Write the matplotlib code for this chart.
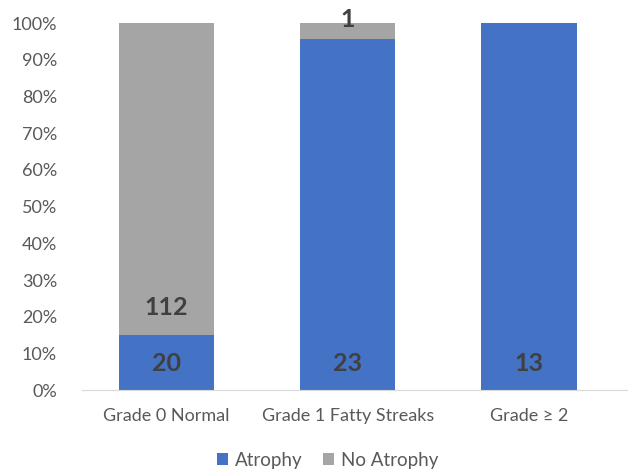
import numpy as np
import matplotlib.pyplot as plt

plt.rcParams['font.family'] = ['Lato', 'DejaVu Sans']

grades = ['Grade 0 Normal', 'Grade 1 Fatty Streaks', 'Grade \u2265 2']
atrophy = np.array([20, 23, 13])
no_atrophy = np.array([112, 1, 0])

totals = atrophy + no_atrophy
atrophy_pct = atrophy / totals
no_atrophy_pct = no_atrophy / totals

fig = plt.figure(figsize=(6.33, 4.74), dpi=100)
ax = fig.add_axes([0.1295, 0.177, 0.861, 0.774])

x = np.arange(len(grades))
width = 0.525
ax.bar(x, atrophy_pct, width, color='#4472C4', label='Atrophy')
ax.bar(x, no_atrophy_pct, width, bottom=atrophy_pct, color='#A5A5A5', label='No Atrophy')

# counts sit just above the base of each segment
for i in range(len(grades)):
    if atrophy[i] > 0:
        ax.text(x[i], 0.073, str(atrophy[i]), ha='center', va='center',
                fontsize=18, fontweight='bold', color='#404040')
    if no_atrophy[i] > 0:
        y = min(atrophy_pct[i] + 0.073, 1.01)
        ax.text(x[i], y, str(no_atrophy[i]), ha='center', va='center',
                fontsize=18, fontweight='bold', color='#404040')

ax.set_xlim(-0.466, 2.54)
ax.set_ylim(0, 1)
ax.set_yticks(np.arange(0, 1.01, 0.1))
ax.set_yticklabels([f'{int(round(v * 100))}%' for v in np.arange(0, 1.01, 0.1)])
ax.set_xticks(x)
ax.set_xticklabels(grades)
ax.tick_params(axis='both', length=0, labelsize=13, colors='#595959')
ax.tick_params(axis='x', pad=13)
ax.tick_params(axis='y', pad=18)

for side in ['top', 'right', 'left']:
    ax.spines[side].set_visible(False)
ax.spines['bottom'].set_color('#D9D9D9')

fig.legend(loc='lower center', bbox_to_anchor=(0.517, -0.025), ncol=2, frameon=False,
           fontsize=13.5, labelcolor='#595959', handlelength=0.6, handleheight=0.6,
           handletextpad=0.35, columnspacing=1.1)

fig.savefig('out.png', dpi=100)
